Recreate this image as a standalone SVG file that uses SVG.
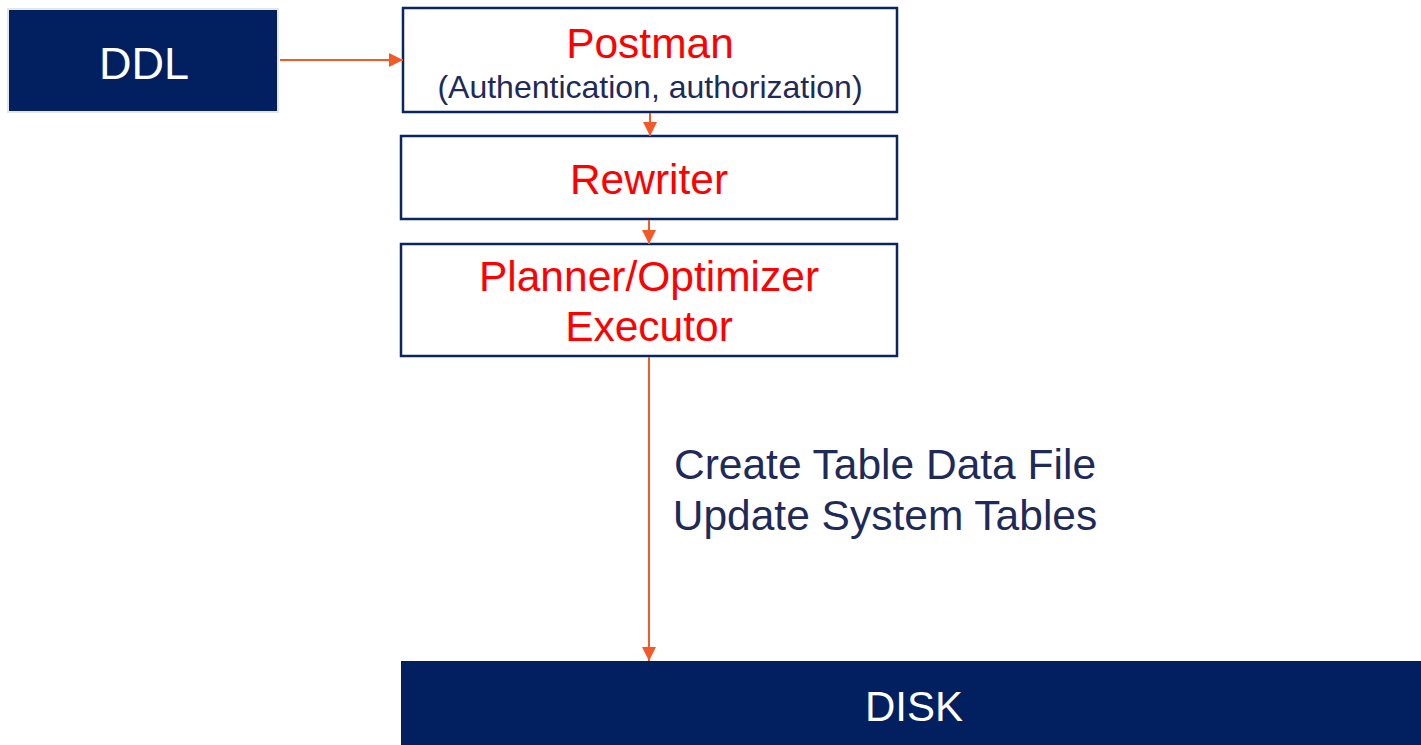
<svg xmlns="http://www.w3.org/2000/svg" width="1421" height="745" viewBox="0 0 1421 745">
  <style>
    .box { fill: #ffffff; stroke: #0b2462; stroke-width: 2.5; }
    .dark { fill: #022060; }
    .lbl { font-family: "Liberation Sans", Arial, Helvetica, sans-serif; text-anchor: middle; }
    .red { fill: #ff0000; font-size: 42.5px; }
    .navy { fill: #1e2a58; }
    .white { fill: #ffffff; }
    .edge { stroke: #f45a27; stroke-width: 2; fill: none; marker-end: url(#head); }
  </style>
  <defs>
    <marker id="head" viewBox="0 0 14 14" refX="14" refY="7" markerWidth="14" markerHeight="14" markerUnits="userSpaceOnUse" orient="auto">
      <path d="M0,0 L14,7 L0,14 Z" fill="#f45a27"/>
    </marker>
  </defs>
  <rect width="1421" height="745" fill="#ffffff"/>

  <g id="ddl">
    <rect x="7" y="8" width="272" height="105" fill="#e6e6e6"/>
    <rect x="9" y="10" width="268" height="101" class="dark"/>
    <text x="144" y="79" class="lbl white" font-size="45">DDL</text>
  </g>

  <g id="postman">
    <rect x="403" y="8" width="494" height="104" class="box"/>
    <text x="650" y="58" class="lbl red">Postman</text>
    <text x="650" y="98" class="lbl navy" font-size="32">(Authentication, authorization)</text>
  </g>

  <g id="rewriter">
    <rect x="401" y="136" width="496" height="83" class="box"/>
    <text x="649" y="194" class="lbl red">Rewriter</text>
  </g>

  <g id="planner">
    <rect x="401" y="244" width="496" height="112" class="box"/>
    <text x="649" y="291" class="lbl red">Planner/Optimizer</text>
    <text x="649" y="341" class="lbl red">Executor</text>
  </g>

  <g id="disk">
    <rect x="401" y="661" width="1020" height="84" class="dark"/>
    <text x="914" y="721" class="lbl white" font-size="42">DISK</text>
  </g>

  <g id="connectors">
    <line x1="280" y1="60" x2="403" y2="60" class="edge"/>
    <line x1="650" y1="113" x2="650" y2="136" class="edge"/>
    <line x1="649" y1="220" x2="649" y2="244" class="edge"/>
    <line x1="649" y1="357" x2="649" y2="661" class="edge"/>
    <text x="885" y="479" class="lbl navy" font-size="42.5">Create Table Data File</text>
    <text x="885" y="530" class="lbl navy" font-size="42.5">Update System Tables</text>
  </g>
</svg>
